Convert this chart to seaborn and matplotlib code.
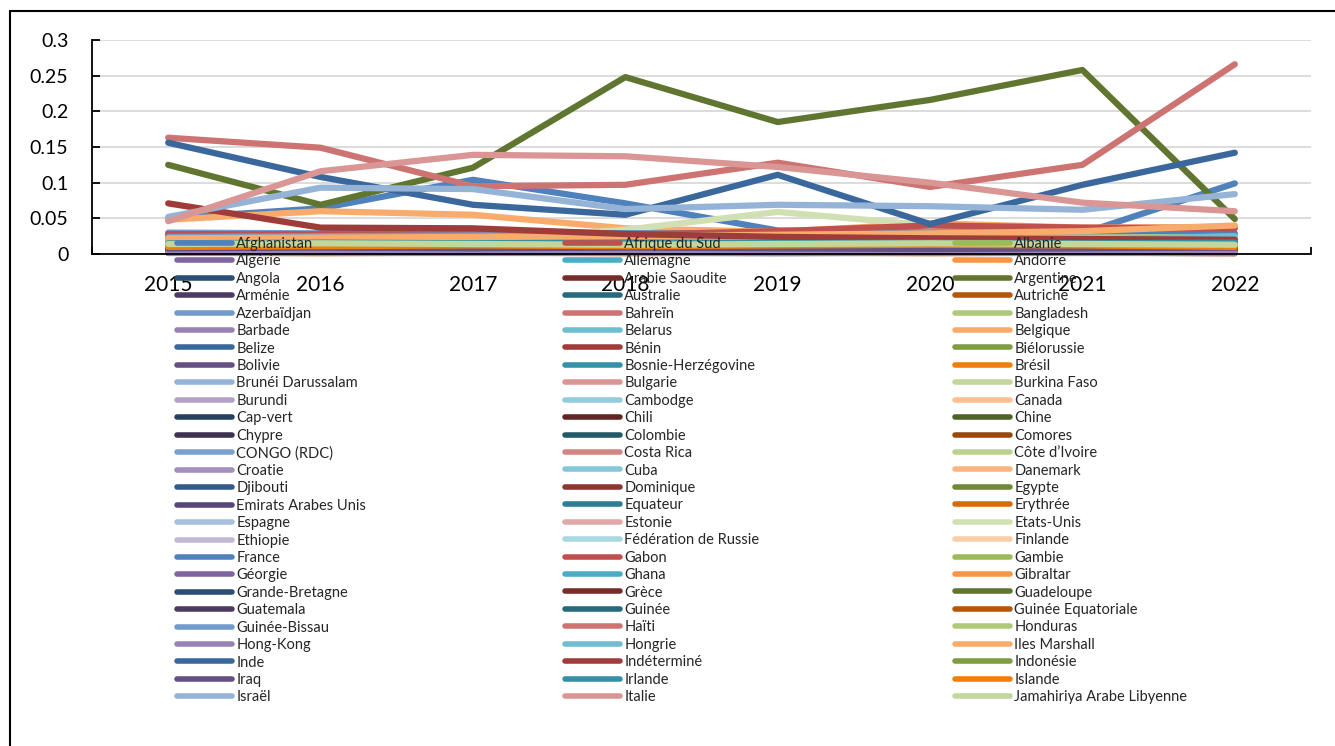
import pandas as pd
import seaborn as sns
import matplotlib.pyplot as plt
from matplotlib.lines import Line2D

# Years on the category axis
years = [2015, 2016, 2017, 2018, 2019, 2020, 2021, 2022]

# Countries, in the order of the series
countries = [
    'Afghanistan', 'Afrique du Sud', 'Albanie', 'Algérie', 'Allemagne', 'Andorre',
    'Angola', 'Arabie Saoudite', 'Argentine', 'Arménie', 'Australie', 'Autriche',
    'Azerbaïdjan', 'Bahreïn', 'Bangladesh', 'Barbade', 'Belarus', 'Belgique',
    'Belize', 'Bénin', 'Biélorussie', 'Bolivie', 'Bosnie-Herzégovine', 'Brésil',
    'Brunéi Darussalam', 'Bulgarie', 'Burkina Faso', 'Burundi', 'Cambodge', 'Canada',
    'Cap-vert', 'Chili', 'Chine', 'Chypre', 'Colombie', 'Comores',
    'CONGO (RDC)', 'Costa Rica', 'Côte d’Ivoire', 'Croatie', 'Cuba', 'Danemark',
    'Djibouti', 'Dominique', 'Egypte', 'Emirats Arabes Unis', 'Equateur', 'Erythrée',
    'Espagne', 'Estonie', 'Etats-Unis', 'Ethiopie', 'Fédération de Russie', 'Finlande',
    'France', 'Gabon', 'Gambie', 'Géorgie', 'Ghana', 'Gibraltar',
    'Grande-Bretagne', 'Grèce', 'Guadeloupe', 'Guatemala', 'Guinée', 'Guinée Equatoriale',
    'Guinée-Bissau', 'Haïti', 'Honduras', 'Hong-Kong', 'Hongrie', 'Iles Marshall',
    'Inde', 'Indéterminé', 'Indonésie', 'Iraq', 'Irlande', 'Islande',
    'Israël', 'Italie', 'Jamahiriya Arabe Libyenne',
]

# One row of values per country (2015 -> 2022)
rates = [
    [0.050, 0.064, 0.104, 0.071, 0.033, 0.030, 0.029, 0.099],  # Afghanistan
    [0.024, 0.022, 0.021, 0.020, 0.018, 0.020, 0.019, 0.017],
    [0.014, 0.016, 0.015, 0.013, 0.010, 0.012, 0.016, 0.018],
    [0.008, 0.007, 0.006, 0.006, 0.005, 0.007, 0.006, 0.005],
    [0.020, 0.019, 0.018, 0.017, 0.016, 0.015, 0.017, 0.020],
    [0.003, 0.002, 0.004, 0.003, 0.002, 0.003, 0.002, 0.004],
    [0.012, 0.010, 0.009, 0.011, 0.008, 0.010, 0.009, 0.008],
    [0.010, 0.011, 0.013, 0.012, 0.011, 0.017, 0.012, 0.008],
    [0.125, 0.069, 0.121, 0.248, 0.185, 0.216, 0.258, 0.049],  # Argentine
    [0.006, 0.005, 0.006, 0.004, 0.005, 0.004, 0.005, 0.006],
    [0.016, 0.015, 0.016, 0.014, 0.015, 0.013, 0.014, 0.012],
    [0.004, 0.005, 0.004, 0.006, 0.005, 0.006, 0.004, 0.005],
    [0.030, 0.029, 0.031, 0.030, 0.028, 0.027, 0.026, 0.022],
    [0.005, 0.004, 0.006, 0.005, 0.004, 0.005, 0.006, 0.004],
    [0.009, 0.010, 0.011, 0.009, 0.010, 0.008, 0.009, 0.010],
    [0.002, 0.002, 0.003, 0.002, 0.001, 0.002, 0.002, 0.001],
    [0.011, 0.012, 0.010, 0.011, 0.012, 0.013, 0.011, 0.012],
    [0.048, 0.060, 0.055, 0.036, 0.031, 0.043, 0.037, 0.038],  # Belgique
    [0.003, 0.004, 0.003, 0.002, 0.003, 0.004, 0.003, 0.002],
    [0.007, 0.008, 0.007, 0.006, 0.007, 0.008, 0.006, 0.007],
    [0.005, 0.006, 0.005, 0.004, 0.005, 0.006, 0.005, 0.004],
    [0.004, 0.003, 0.004, 0.005, 0.004, 0.003, 0.004, 0.003],
    [0.013, 0.014, 0.015, 0.016, 0.015, 0.014, 0.015, 0.016],
    [0.012, 0.013, 0.012, 0.014, 0.013, 0.015, 0.016, 0.012],
    [0.002, 0.003, 0.002, 0.003, 0.002, 0.003, 0.002, 0.003],
    [0.006, 0.007, 0.006, 0.007, 0.008, 0.007, 0.006, 0.007],
    [0.009, 0.008, 0.010, 0.009, 0.008, 0.009, 0.010, 0.011],
    [0.003, 0.004, 0.003, 0.004, 0.003, 0.002, 0.003, 0.004],
    [0.008, 0.009, 0.008, 0.007, 0.009, 0.008, 0.007, 0.008],
    [0.018, 0.019, 0.020, 0.021, 0.019, 0.020, 0.022, 0.023],
    [0.004, 0.003, 0.004, 0.003, 0.004, 0.005, 0.004, 0.003],
    [0.008, 0.007, 0.009, 0.008, 0.007, 0.009, 0.008, 0.009],
    [0.014, 0.013, 0.012, 0.013, 0.012, 0.011, 0.012, 0.013],
    [0.002, 0.003, 0.002, 0.002, 0.003, 0.002, 0.003, 0.002],
    [0.011, 0.012, 0.013, 0.012, 0.011, 0.010, 0.012, 0.013],
    [0.005, 0.006, 0.005, 0.006, 0.005, 0.004, 0.005, 0.006],
    [0.025, 0.026, 0.024, 0.025, 0.026, 0.024, 0.025, 0.024],
    [0.004, 0.005, 0.004, 0.005, 0.004, 0.005, 0.004, 0.005],
    [0.016, 0.017, 0.018, 0.017, 0.016, 0.018, 0.019, 0.020],
    [0.003, 0.002, 0.003, 0.002, 0.003, 0.002, 0.003, 0.002],
    [0.012, 0.013, 0.012, 0.014, 0.013, 0.012, 0.013, 0.014],
    [0.006, 0.005, 0.006, 0.005, 0.006, 0.007, 0.006, 0.005],
    [0.005, 0.004, 0.005, 0.006, 0.005, 0.004, 0.005, 0.006],
    [0.009, 0.010, 0.009, 0.008, 0.009, 0.010, 0.011, 0.010],
    [0.007, 0.006, 0.007, 0.008, 0.007, 0.006, 0.007, 0.008],
    [0.003, 0.004, 0.003, 0.004, 0.003, 0.004, 0.003, 0.004],
    [0.010, 0.011, 0.010, 0.009, 0.010, 0.011, 0.010, 0.009],
    [0.015, 0.016, 0.017, 0.016, 0.015, 0.016, 0.014, 0.013],
    [0.019, 0.020, 0.021, 0.020, 0.019, 0.021, 0.022, 0.021],
    [0.004, 0.003, 0.004, 0.003, 0.004, 0.003, 0.004, 0.003],
    [0.017, 0.018, 0.020, 0.034, 0.059, 0.040, 0.031, 0.027],  # Etats-Unis
    [0.006, 0.007, 0.006, 0.007, 0.006, 0.007, 0.006, 0.007],
    [0.021, 0.022, 0.023, 0.022, 0.021, 0.022, 0.023, 0.024],
    [0.002, 0.003, 0.002, 0.003, 0.002, 0.003, 0.002, 0.003],
    [0.027, 0.028, 0.030, 0.029, 0.028, 0.030, 0.031, 0.029],
    [0.028, 0.027, 0.026, 0.027, 0.032, 0.040, 0.037, 0.036],  # Gabon
    [0.010, 0.009, 0.011, 0.010, 0.009, 0.010, 0.011, 0.012],
    [0.005, 0.006, 0.005, 0.004, 0.005, 0.006, 0.005, 0.004],
    [0.018, 0.017, 0.018, 0.019, 0.018, 0.017, 0.018, 0.019],
    [0.002, 0.001, 0.002, 0.001, 0.002, 0.001, 0.002, 0.001],
    [0.007, 0.008, 0.007, 0.008, 0.009, 0.008, 0.007, 0.008],
    [0.013, 0.012, 0.014, 0.013, 0.012, 0.018, 0.013, 0.012],
    [0.004, 0.005, 0.004, 0.005, 0.004, 0.005, 0.004, 0.005],
    [0.003, 0.004, 0.003, 0.004, 0.003, 0.002, 0.003, 0.004],
    [0.017, 0.016, 0.017, 0.018, 0.017, 0.016, 0.017, 0.015],
    [0.006, 0.005, 0.006, 0.007, 0.006, 0.005, 0.006, 0.005],
    [0.024, 0.025, 0.026, 0.027, 0.026, 0.025, 0.024, 0.023],
    [0.163, 0.149, 0.095, 0.097, 0.128, 0.094, 0.125, 0.266],  # Haïti
    [0.019, 0.020, 0.019, 0.020, 0.021, 0.022, 0.023, 0.024],
    [0.001, 0.001, 0.001, 0.001, 0.001, 0.001, 0.001, 0.001],
    [0.016, 0.017, 0.016, 0.017, 0.018, 0.019, 0.020, 0.025],
    [0.022, 0.023, 0.024, 0.025, 0.027, 0.029, 0.032, 0.040],
    [0.156, 0.108, 0.069, 0.055, 0.111, 0.042, 0.097, 0.142],  # Inde
    [0.071, 0.037, 0.036, 0.028, 0.024, 0.022, 0.021, 0.020],
    [0.012, 0.011, 0.012, 0.011, 0.010, 0.011, 0.012, 0.011],
    [0.008, 0.009, 0.008, 0.009, 0.008, 0.007, 0.008, 0.009],
    [0.015, 0.016, 0.015, 0.016, 0.015, 0.016, 0.015, 0.016],
    [0.010, 0.011, 0.012, 0.011, 0.012, 0.013, 0.012, 0.010],
    [0.052, 0.093, 0.091, 0.063, 0.069, 0.067, 0.062, 0.084],  # Israël
    [0.046, 0.116, 0.139, 0.137, 0.122, 0.100, 0.072, 0.060],  # Italie
    [0.014, 0.015, 0.014, 0.013, 0.014, 0.015, 0.014, 0.013],
]

# Excel-like series colours (cycle of 54)
excel_colors = [
    '#4F81BD', '#C0504D', '#9BBB59', '#8064A2', '#4BACC6', '#F79646',
    '#2C4D75', '#772C2A', '#5F7530', '#4D3B62', '#276A7C', '#B65708',
    '#729ACA', '#CD7371', '#AFC97A', '#9983B5', '#6FBDD1', '#F9AB6B',
    '#3A679C', '#9F3B38', '#7E9D40', '#664F83', '#3490A6', '#F07E09',
    '#95B3D7', '#D99694', '#C3D69B', '#B2A1C7', '#93CDDD', '#FAC090',
    '#254061', '#632523', '#4F6228', '#3F3151', '#215968', '#984807',
    '#7CA0CD', '#D38583', '#BDD290', '#A28FBB', '#85C6D9', '#FBB581',
    '#335B8A', '#8E3431', '#6E8A36', '#59457A', '#2D7D93', '#D56B09',
    '#A7C0DE', '#E0A9A8', '#D1E0B3', '#C3B8D6', '#A9D8E3', '#FBCCA8',
]
palette = (excel_colors * 2)[:len(countries)]

df = pd.DataFrame({
    'country': [c for c in countries for _ in years],
    'year': years * len(countries),
    'rate': [v for row in rates for v in row],
})

sns.set_style("white")
plt.rcParams['font.family'] = ['Lato', 'DejaVu Sans']

W, H = 1335, 746
fig = plt.figure(figsize=(W / 100, H / 100), dpi=100)
ax = fig.add_axes([92 / W, 1 - 254 / H, (1311 - 92) / W, (254 - 40) / H])

sns.lineplot(data=df, x='year', y='rate', hue='country', hue_order=countries,
             palette=palette, estimator=None, errorbar=None, legend=False,
             linewidth=4.5, solid_capstyle='round', clip_on=False, ax=ax)

ax.set_xlim(2014.5, 2022.5)
ax.set_ylim(0, 0.3)
ax.set_yticks([0, 0.05, 0.1, 0.15, 0.2, 0.25, 0.3])
ax.set_yticklabels(['0', '0.05', '0.1', '0.15', '0.2', '0.25', '0.3'])
ax.set_xticks(years)
ax.set_xticklabels([str(y) for y in years])
ax.set_xticks([y - 0.5 for y in years] + [2022.5], minor=True)
ax.set_xlabel('')
ax.set_ylabel('')

ax.grid(axis='y', color='#D9D9D9', linewidth=1.3)
ax.grid(axis='x', visible=False)
ax.set_axisbelow(True)

for side in ['top', 'right']:
    ax.spines[side].set_visible(False)
for side in ['left', 'bottom']:
    ax.spines[side].set_color('black')
    ax.spines[side].set_linewidth(1.3)

ax.tick_params(axis='y', which='major', direction='in', length=6, width=1.3,
               labelsize=14, pad=17, colors='black', left=True)
ax.tick_params(axis='x', which='major', length=0, labelsize=15, pad=15, colors='black')
ax.tick_params(axis='x', which='minor', direction='in', length=5, width=1.3,
               bottom=True, colors='black')

# Legend in three columns, rows read left to right
col_x = [177, 565, 955]
for j, x0 in enumerate(col_x):
    names = countries[j::3]
    cols = palette[j::3]
    handles = [Line2D([], [], color=c, linewidth=4, solid_capstyle='round') for c in cols]
    fig.legend(handles, names, loc='upper left',
               bbox_to_anchor=(x0 / W, 1 - 237 / H), frameon=False,
               fontsize=10.5, handlelength=3.8, handletextpad=0.27,
               borderpad=0, borderaxespad=0, labelspacing=0.235)

# Outer chart border (left and top visible)
fig.add_artist(Line2D([10 / W, 10 / W], [0, 1 - 11 / H], transform=fig.transFigure,
                      color='black', linewidth=1.5))
fig.add_artist(Line2D([10 / W, 1], [1 - 11 / H, 1 - 11 / H], transform=fig.transFigure,
                      color='black', linewidth=1.5))

plt.savefig('out.png', dpi=100)
